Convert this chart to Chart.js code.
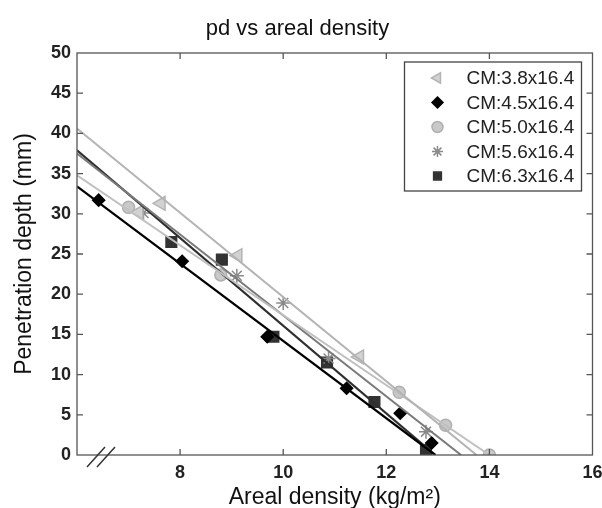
<!DOCTYPE html>
<html>
<head>
<meta charset="utf-8">
<script src="https://cdn.jsdelivr.net/npm/chart.js@4.4.1/dist/chart.umd.min.js"></script>
<style>
  html, body { margin: 0; padding: 0; background: #fff; }
  #wrap { width: 602px; height: 508px; }
</style>
</head>
<body>
<div id="wrap"><canvas id="pdChart"></canvas></div>
<script>
// series names
const seriesLabels = ['CM:3.8x16.4', 'CM:4.5x16.4', 'CM:5.0x16.4', 'CM:5.6x16.4', 'CM:6.3x16.4'];

// measured points (areal density kg/m2, penetration depth mm)
const triX = [7.2, 7.63, 9.12, 11.48];
const triY = [30.2, 31.3, 24.8, 12.2];
const diaX = [6.42, 8.04, 9.69, 11.23, 12.27, 12.88];
const diaY = [31.7, 24.1, 14.7, 8.3, 5.2, 1.5];
const cirX = [7.0, 8.79, 12.25, 13.15, 14.0];
const cirY = [30.8, 22.4, 7.8, 3.7, 0];
const starX = [7.29, 9.1, 10.0, 10.88, 12.77];
const starY = [30.1, 22.3, 18.9, 12.0, 2.9];
const sqX = [7.83, 8.81, 9.81, 10.85, 11.77, 12.77];
const sqY = [26.5, 24.3, 14.7, 11.5, 6.6, 0.6];

// linear fits: x at left edge and at zero depth, with matching depths
const triFitX = [6, 13.75], triFitY = [40.6, 0];
const diaFitX = [6, 12.95], diaFitY = [33.4, 0];
const cirFitX = [6, 14.0],  cirFitY = [34.8, 0];
const starFitX = [6, 13.45], starFitY = [37.5, 0];
const sqFitX = [6, 12.95],  sqFitY = [37.9, 0];

// axis ticks
const xTicks = [8, 10, 12, 14, 16];
const yTicks = [0, 5, 10, 15, 20, 25, 30, 35, 40, 45, 50];

const FONT = "'Liberation Sans', Arial, sans-serif";

function pts(xs, ys) {
    return xs.map((x, i) => ({ x: x, y: ys[i] }));
}

const markerStyles = [
    { pointStyle: 'triangle', rotation: -90, radius: 8, bg: '#d2d2d2', border: '#b4b4b4' },
    { pointStyle: 'rectRot', rotation: 0, radius: 6, bg: '#000000', border: '#000000' },
    { pointStyle: 'circle', rotation: 0, radius: 6, bg: '#c9c9c9', border: '#b0b0b0' },
    { pointStyle: 'star', rotation: 0, radius: 7, bg: '#888888', border: '#8a8a8a' },
    { pointStyle: 'rect', rotation: 0, radius: 7.5, bg: '#333333', border: '#333333' }
];
const fitColors = ['#b3b3b3', '#000000', '#c0c0c0', '#7a7a7a', '#2e2e2e'];

const pointSets = [pts(triX, triY), pts(diaX, diaY), pts(cirX, cirY), pts(starX, starY), pts(sqX, sqY)];
const fitSets = [pts(triFitX, triFitY), pts(diaFitX, diaFitY), pts(cirFitX, cirFitY), pts(starFitX, starFitY), pts(sqFitX, sqFitY)];

const datasets = [];
fitSets.forEach((d, i) => {
    datasets.push({
        type: 'line',
        label: 'fit ' + seriesLabels[i],
        data: d,
        borderColor: fitColors[i],
        borderWidth: i === 1 || i === 4 ? 2.2 : 2,
        pointRadius: 0,
        fill: false
    });
});
pointSets.forEach((d, i) => {
    const m = markerStyles[i];
    datasets.push({
        type: 'scatter',
        label: seriesLabels[i],
        data: d,
        pointStyle: m.pointStyle,
        pointRotation: m.rotation,
        pointRadius: m.radius,
        pointBackgroundColor: m.bg,
        pointBorderColor: m.border,
        pointBorderWidth: 1.5,
        showLine: false
    });
});

// box with inward ticks, axis break and legend
const framePlugin = {
    id: 'frame',
    afterDatasetsDraw(chart) {
        const ctx = chart.ctx;
        const a = chart.chartArea;
        const xs = chart.scales.x, ys = chart.scales.y;
        ctx.save();
        ctx.strokeStyle = '#555';
        ctx.lineWidth = 1.3;
        ctx.strokeRect(a.left, a.top, a.right - a.left, a.bottom - a.top);
        ctx.beginPath();
        xTicks.forEach(v => {
            if (v <= xs.min || v >= xs.max) return;
            const px = xs.getPixelForValue(v);
            ctx.moveTo(px, a.bottom); ctx.lineTo(px, a.bottom - 6);
            ctx.moveTo(px, a.top); ctx.lineTo(px, a.top + 6);
        });
        yTicks.forEach(v => {
            if (v <= ys.min || v >= ys.max) return;
            const py = ys.getPixelForValue(v);
            ctx.moveTo(a.left, py); ctx.lineTo(a.left + 6, py);
            ctx.moveTo(a.right, py); ctx.lineTo(a.right - 6, py);
        });
        ctx.stroke();

        // axis break marks
        ctx.strokeStyle = '#333';
        ctx.lineWidth = 1.5;
        ctx.beginPath();
        ctx.moveTo(a.left + 10, a.bottom + 12); ctx.lineTo(a.left + 28, a.bottom - 8);
        ctx.moveTo(a.left + 20, a.bottom + 12); ctx.lineTo(a.left + 38, a.bottom - 8);
        ctx.stroke();

        // legend
        const bw = 177, bh = 129;
        const bx = a.right - 11 - bw, by = a.top + 9;
        ctx.fillStyle = '#fff';
        ctx.fillRect(bx, by, bw, bh);
        ctx.strokeStyle = '#444';
        ctx.lineWidth = 1.3;
        ctx.strokeRect(bx, by, bw, bh);
        ctx.font = '19px ' + FONT;
        ctx.textBaseline = 'middle';
        ctx.textAlign = 'left';
        seriesLabels.forEach((lab, i) => {
            const m = markerStyles[i];
            const cy = by + 16 + i * 24.5;
            ctx.fillStyle = m.bg;
            ctx.strokeStyle = m.border;
            ctx.lineWidth = 1.5;
            Chart.helpers.drawPoint(ctx, {
                pointStyle: m.pointStyle,
                rotation: m.rotation,
                radius: i === 0 ? 6 : 5.5,
                borderWidth: 1.5
            }, bx + 33, cy);
            ctx.fillStyle = '#222';
            ctx.fillText(lab, bx + 62, cy + 1);
        });
        ctx.restore();
    }
};

const config = {
    type: 'scatter',
    data: { datasets: datasets },
    options: {
        responsive: true,
        maintainAspectRatio: false,
        animation: false,
        layout: { padding: { left: 0, right: 7, top: 0, bottom: 0 } },
        scales: {
            x: {
                type: 'linear',
                min: 6,
                max: 16,
                grid: { display: false, drawTicks: false },
                border: { display: false },
                afterBuildTicks: s => { s.ticks = xTicks.map(v => ({ value: v })); },
                afterFit: s => { s.height = 53; s.paddingLeft = 0; s.paddingRight = 0; },
                ticks: {
                    autoSkip: false,
                    maxRotation: 0,
                    padding: 7,
                    color: '#222',
                    font: { family: FONT, size: 18, weight: 'bold' }
                },
                title: {
                    display: true,
                    text: 'Areal density (kg/m\u00b2)',
                    color: '#111',
                    padding: { top: 0, bottom: -3 },
                    font: { family: FONT, size: 23 }
                }
            },
            y: {
                min: 0,
                max: 50,
                grid: { display: false, drawTicks: false },
                border: { display: false },
                afterBuildTicks: s => { s.ticks = yTicks.map(v => ({ value: v })); },
                afterFit: s => { s.width = 77; s.paddingTop = 0; s.paddingBottom = 0; },
                ticks: {
                    padding: 6,
                    color: '#222',
                    font: { family: FONT, size: 18, weight: 'bold' }
                },
                title: {
                    display: true,
                    text: 'Penetration depth (mm)',
                    color: '#111',
                    padding: { top: 11, bottom: 0 },
                    font: { family: FONT, size: 23 }
                }
            }
        },
        plugins: {
            legend: { display: false },
            tooltip: { enabled: false },
            title: {
                display: true,
                text: 'pd vs areal density',
                color: '#111',
                padding: { top: 16, bottom: 10.6 },
                font: { family: FONT, size: 22, weight: 'normal' }
            }
        }
    },
    plugins: [framePlugin]
};

const pdChart = new Chart(document.getElementById('pdChart').getContext('2d'), config);
</script>
</body>
</html>
